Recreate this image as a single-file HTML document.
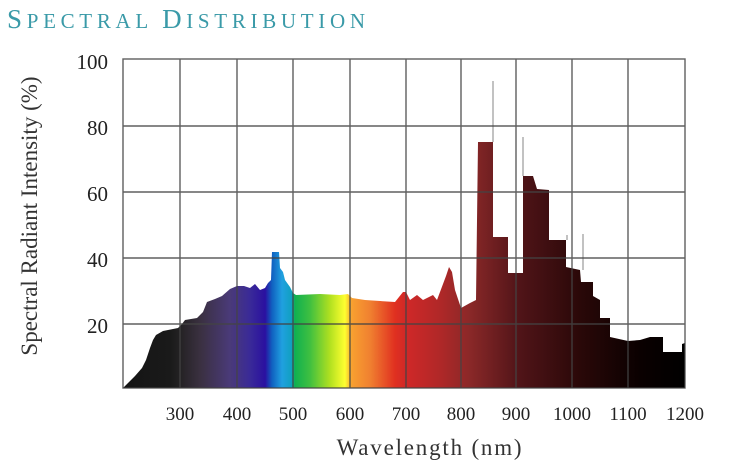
<!DOCTYPE html>
<html><head><meta charset="utf-8"><style>
html,body{margin:0;padding:0;background:#fff}
svg{display:block}
text{font-family:"Liberation Serif",serif}
</style></head><body>
<svg width="734" height="476" viewBox="0 0 734 476">
<defs>
<linearGradient id="g" gradientUnits="userSpaceOnUse" x1="123" y1="0" x2="685" y2="0">
<stop offset="0" stop-color="#141414"/>
<stop offset="0.084" stop-color="#1a1a1a"/>
<stop offset="0.102" stop-color="#242224"/>
<stop offset="0.137" stop-color="#3a3040"/>
<stop offset="0.19" stop-color="#4a3a78"/>
<stop offset="0.226" stop-color="#3a2a98"/>
<stop offset="0.253" stop-color="#2a10a0"/>
<stop offset="0.265" stop-color="#1060c0"/>
<stop offset="0.283" stop-color="#20a0e0"/>
<stop offset="0.30" stop-color="#10a0c0"/>
<stop offset="0.306" stop-color="#10b050"/>
<stop offset="0.333" stop-color="#40c040"/>
<stop offset="0.368" stop-color="#b0e020"/>
<stop offset="0.395" stop-color="#ffff30"/>
<stop offset="0.407" stop-color="#f8a030"/>
<stop offset="0.44" stop-color="#f08030"/>
<stop offset="0.484" stop-color="#e03020"/>
<stop offset="0.504" stop-color="#d02828"/>
<stop offset="0.564" stop-color="#b02828"/>
<stop offset="0.617" stop-color="#8a2828"/>
<stop offset="0.706" stop-color="#501418"/>
<stop offset="0.813" stop-color="#2a0808"/>
<stop offset="0.92" stop-color="#0a0000"/>
<stop offset="1" stop-color="#000"/>
</linearGradient>
</defs>
<text x="7" y="28" fill="#3a9aa8" textLength="358" lengthAdjust="spacing"><tspan font-size="27">S</tspan><tspan font-size="21">PECTRAL </tspan><tspan font-size="27">D</tspan><tspan font-size="21">ISTRIBUTION</tspan></text>
<g stroke="#999" stroke-width="1.2">
<line x1="493" y1="81" x2="493" y2="142"/><line x1="523" y1="137" x2="523" y2="176"/>
<line x1="567" y1="235" x2="567" y2="240"/><line x1="583" y1="234" x2="583" y2="270"/>
</g>
<polygon fill="url(#g)" points="123,388 135,376 142,368 146,360 150,348 153,340 156,335 163,331 178,328 182,324 185,320 197,318 203,312 207,302 215,299 222,296 230,289 237,286 244,286 250,288 255,284 260,290 265,288 268,283 271,280 272,252 279,252 280,268 283,272 285,280 290,287 293,293 296,295 320,294 340,295 348,294 352,298 365,300 380,301 395,302 403,292 406,292 410,300 417,295 423,300 433,295 437,300 446,276 449,267 452,272 455,290 461,308 470,303 476,300 478,142 493,142 493,237 508,237 508,273 523,273 523,176 533,176 537,189 549,190 549,240 566,240 566,267 580,270 581,282 593,282 593,296 600,300 600,318 610,318 610,337 628,341 640,340 650,337 663,337 663,352 682,352 682,344 685,343 685,388"/>
<g stroke="#444" stroke-width="1.4" fill="none" opacity="0.85">
<rect x="123" y="59" width="562" height="329"/>
<line x1="180" y1="59" x2="180" y2="388"/><line x1="237" y1="59" x2="237" y2="388"/>
<line x1="293" y1="59" x2="293" y2="388"/><line x1="350" y1="59" x2="350" y2="388"/>
<line x1="406" y1="59" x2="406" y2="388"/><line x1="461" y1="59" x2="461" y2="388"/>
<line x1="516" y1="59" x2="516" y2="388"/><line x1="572" y1="59" x2="572" y2="388"/>
<line x1="628" y1="59" x2="628" y2="388"/>
<line x1="123" y1="126" x2="685" y2="126"/><line x1="123" y1="192" x2="685" y2="192"/>
<line x1="123" y1="258" x2="685" y2="258"/><line x1="123" y1="324" x2="685" y2="324"/>
</g>
<g font-size="21" fill="#222" text-anchor="end">
<text x="108" y="69">100</text><text x="108" y="135">80</text><text x="108" y="201">60</text>
<text x="108" y="267">40</text><text x="108" y="333">20</text>
</g>
<g font-size="19" fill="#222" text-anchor="middle">
<text x="180" y="420">300</text><text x="237" y="420">400</text><text x="293" y="420">500</text>
<text x="350" y="420">600</text><text x="406" y="420">700</text><text x="461" y="420">800</text>
<text x="516" y="420">900</text><text x="572" y="420">1000</text><text x="628" y="420">1100</text>
<text x="685" y="420">1200</text>
</g>
<text x="430" y="455" font-size="23" fill="#333" text-anchor="middle" letter-spacing="1.8">Wavelength (nm)</text>
<text transform="translate(37,216) rotate(-90)" font-size="23" fill="#333" text-anchor="middle">Spectral Radiant Intensity (%)</text>
</svg>
</body></html>
